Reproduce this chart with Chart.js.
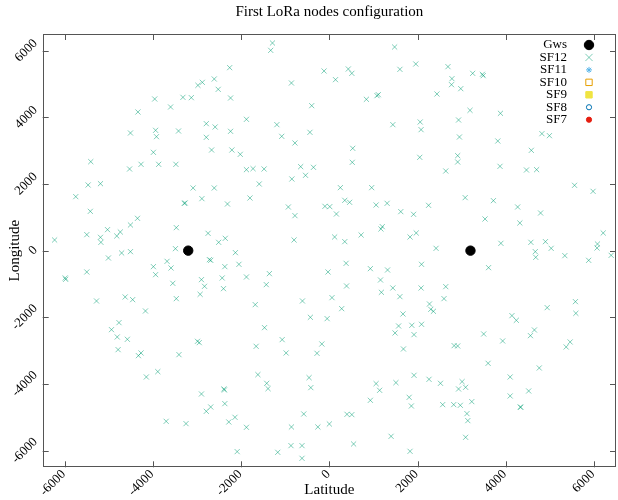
<!DOCTYPE html>
<html>
<head>
<meta charset="utf-8">
<script src="https://cdn.jsdelivr.net/npm/chart.js@4.4.1/dist/chart.umd.min.js"></script>
<style>
html,body{margin:0;padding:0;background:#fff}
</style>
</head>
<body>
<canvas id="c" width="618" height="500"></canvas>
<script>
const TITLE='First LoRa nodes configuration'
const XTITLE='Latitude'
const YTITLE='Longitude'
const tickVals=[-6000,-4000,-2000,0,2000,4000,6000]
const seriesNames=['Gws','SF12','SF11','SF10','SF9','SF8','SF7']

// gateways
const gws=[[-3200,0],[3200,0]]

// SF12 nodes
const sf12=[
[-5410,2670],[-4530,2450],[-4270,2590],[-3870,2590],[-3480,2590],[-3990,2950],[-4510,3530],[-3940,3610],[-3920,3420],[-3420,3590],
[-4340,4160],[-3960,4550],[-3600,4310],[-3320,4600],[-3130,4590],[-2980,4960],[-2880,5050],[-2610,5150],[-2520,4840],[-2260,5490],
[-2240,4580],[-2790,3810],[-2590,3710],[-2790,3400],[-2240,3580],[-2670,3020],[-2210,3020],
[-1290,6230],[-1330,6010],[-860,5030],[-120,5390],[140,5130],[430,5450],[510,5320],[-400,4350],[-1880,3940],[-1190,3780],
[-1080,3430],[-780,3230],[-440,3550],[-2020,2890],[-1880,2430],[-1730,2460],[-1480,2450],[-650,2520],[-360,2500],[-850,2150],
[-540,2260],[530,3070],[520,2650],[840,4540],[1080,4650],[1110,4680],[1440,3780],[1480,6110],[1600,5440],[1960,5600],
[2060,3860],[2080,3630],[2050,2800],
[2690,5520],[2780,5160],[2770,4980],[2980,4860],[2440,4700],[3250,5320],[3470,5290],[3490,5250],[3190,4210],[2930,3920],
[3880,4120],[2950,3410],[3820,3290],[2910,2850],[2910,2660],[2640,2390],[3870,2530],[4470,2420],[4700,2430],[4580,3010],
[4820,3510],[4990,3450],
[-5470,1970],[-5190,2010],[-5750,1620],[-5420,1180],[-6230,320],[-5500,480],[-5190,400],[-5180,250],[-5030,630],[-4820,440],
[-4740,560],[-4510,770],[-4350,970],[-5010,-220],[-4710,-70],[-4510,-30],[-5990,-820],[-5980,-860],[-5500,-640],[-5280,-1510],
[-4630,-1390],[-4460,-1470],[-4170,-1810],[-4770,-2160],[-3290,1420],[-3270,1430],[-3090,1880],[-2890,1560],[-2610,1880],[-2310,1400],
[-3470,690],[-3490,60],[-2750,520],[-2510,250],[-2360,370],[-3680,-320],[-3590,-520],[-3990,-480],[-3940,-720],[-2720,-270],
[-2690,-290],[-2370,-480],[-3550,-980],[-2900,-870],[-2830,-1070],[-2930,-1310],[-2430,-820],[-2400,-1140],[-3470,-1440],
[-1590,2000],[-1800,1580],[-930,1310],[-780,1050],[-800,320],[-2130,-60],[-2050,-410],[-1880,-790],[-1360,-690],[-1430,-1020],
[-1680,-1620],[-610,-1510],[-430,-2000],[-50,-2040],[60,-1410],[280,-1740],[390,-1060],[-30,-640],[380,-380],[120,410],
[350,270],[720,470],[1170,650],[1200,720],[-100,1330],[10,1320],[160,1100],[250,1890],[350,1510],[460,1450],
[960,1890],[1060,1370],[1310,1420],[1620,1170],[1910,1090],[1830,410],[1970,530],[930,-540],[1320,-580],[1160,-880],
[1180,-1250],[1440,-1120],[1600,-1380],[2080,-1120],[2090,-410],[1670,-1900],
[2250,1360],[3080,1590],[3720,1500],[3530,950],[4270,1310],[4320,830],[4790,1130],[5560,1960],[5980,1780],[6210,530],
[6080,200],[6070,80],[6390,-140],[5880,-290],[5340,-150],[5030,70],[4900,270],[4570,250],[4670,-30],[4680,-200],
[3890,220],[2420,70],[3610,-510],[2640,-1080],[2600,-1440],[2270,-1600],[2300,-1760],[2360,-1820],[4940,-1710],[5580,-1530],
[5590,-1880],[4140,-1950],[4240,-2090],
[-4940,-2370],[-4810,-2590],[-4580,-2660],[-4790,-2970],[-4330,-3150],[-4270,-3070],[-4150,-3790],[-3890,-3630],[-3410,-3120],[-2990,-2720],
[-2950,-2760],[-2900,-4300],[-2390,-4150],[-2380,-4180],[-2370,-4590],[-2690,-4690],[-2790,-4820],[-2280,-5140],[-3700,-5120],[-3250,-5190],
[-1470,-2310],[-1070,-2670],[-1660,-2870],[-980,-3070],[-170,-2800],[-280,-3080],[-1620,-3720],[-1420,-3980],[-1390,-4140],[-460,-3810],
[-420,-4110],[-2140,-5000],[-1880,-5300],[-2090,-6030],[-1170,-6050],[-870,-5850],[-620,-5850],[-620,-6230],[-860,-5290],[-580,-4900],
[-260,-5290],[0,-5200],[400,-4910],[510,-4920],[550,-5800],[930,-4490],[1060,-3990],[1140,-4190],[1510,-3960],[1920,-3740],
[1810,-4400],[1860,-4660],[1400,-5570],[1830,-6020],[1490,-2470],[1680,-2950],[1920,-2520],[1570,-2260],[1870,-2240],[2090,-2210],
[3500,-2500],[3930,-2710],[4560,-2550],[4650,-2380],[5370,-2890],[5460,-2740],[2830,-2850],[2910,-2860],[3600,-3380],[4760,-3520],
[4100,-3790],[2260,-3860],[2520,-3980],[3010,-3930],[2930,-4150],[3090,-4100],[4100,-4360],[4520,-4210],[2570,-4620],[2820,-4620],
[2970,-4640],[3230,-4530],[4330,-4690],[4340,-4700],[3120,-4890],[3140,-5100],[3090,-5600]
]

// no nodes ended up on the other spreading factors
const sf11=[]
const sf10=[]
const sf9=[]
const sf8=[]
const sf7=[]

const SERIF='"Liberation Serif", "DejaVu Serif", serif'

function toPts(arr){return arr.map(p=>({x:p[0],y:p[1]}))}

// marker looks, used by datasets and by the hand drawn key
const looks=[
 {style:'circle',r:4.7,fill:'#000',stroke:'#000'},
 {style:'crossRot',r:3.6,fill:'rgba(0,0,0,0)',stroke:'rgba(0,158,115,0.5)'},
 {style:'star',r:3,fill:'rgba(0,0,0,0)',stroke:'#56b4e9'},
 {style:'rect',r:3.2,fill:'rgba(0,0,0,0)',stroke:'#e69f00'},
 {style:'rect',r:3.2,fill:'#f0e442',stroke:'#f0e442'},
 {style:'circle',r:2.6,fill:'rgba(0,0,0,0)',stroke:'#0072b2'},
 {style:'circle',r:2.6,fill:'#e51e10',stroke:'#e51e10'}
]

const allData=[gws,sf12,sf11,sf10,sf9,sf8,sf7]

function drawMark(ctx,lk,x,y){
 ctx.save()
 ctx.lineWidth=1
 ctx.strokeStyle=lk.stroke
 ctx.fillStyle=lk.fill
 const r=lk.r
 ctx.beginPath()
 if(lk.style=='circle'){ctx.arc(x,y,r,0,Math.PI*2);ctx.fill();ctx.stroke()}
 else if(lk.style=='rect'){ctx.rect(x-r,y-r,2*r,2*r);ctx.fill();ctx.stroke()}
 else if(lk.style=='crossRot'){ctx.moveTo(x-r,y-r);ctx.lineTo(x+r,y+r);ctx.moveTo(x-r,y+r);ctx.lineTo(x+r,y-r);ctx.stroke()}
 else if(lk.style=='star'){
  ctx.moveTo(x-r,y);ctx.lineTo(x+r,y);ctx.moveTo(x,y-r);ctx.lineTo(x,y+r)
  ctx.moveTo(x-r*0.7,y-r*0.7);ctx.lineTo(x+r*0.7,y+r*0.7);ctx.moveTo(x-r*0.7,y+r*0.7);ctx.lineTo(x+r*0.7,y-r*0.7);ctx.stroke()}
 ctx.restore()
}

// frame, inward ticks, rotated tick labels, titles and the key, gnuplot style
const framePlugin={
 id:'framePlugin',
 afterDraw(chart){
  const ctx=chart.ctx
  const a=chart.chartArea
  const sx=chart.scales.x, sy=chart.scales.y
  ctx.save()
  ctx.strokeStyle='#555'
  ctx.lineWidth=1
  ctx.strokeRect(Math.round(a.left)+0.5,Math.round(a.top)+0.5,Math.round(a.right-a.left)-1,Math.round(a.bottom-a.top)-1)
  ctx.beginPath()
  tickVals.forEach(v=>{
   const px=Math.round(sx.getPixelForValue(v))+0.5
   ctx.moveTo(px,a.bottom);ctx.lineTo(px,a.bottom-6)
   ctx.moveTo(px,a.top);ctx.lineTo(px,a.top+6)
   const py=Math.round(sy.getPixelForValue(v))+0.5
   ctx.moveTo(a.left,py);ctx.lineTo(a.left+6,py)
   ctx.moveTo(a.right,py);ctx.lineTo(a.right-6,py)
  })
  ctx.stroke()

  // tick labels, rotated 45 degrees like the original
  ctx.fillStyle='#000'
  ctx.font='13px '+SERIF
  ctx.textBaseline='middle'
  tickVals.forEach(v=>{
   const t=String(v)
   const px=sx.getPixelForValue(v)
   ctx.textAlign='right'
   ctx.save();ctx.translate(px-1,a.bottom+5);ctx.rotate(-Math.PI/4);ctx.fillText(t,0,0);ctx.restore()
   ctx.textAlign='center'
   const w=ctx.measureText(t).width
   const bw=(w+9)*0.7071
   const py=sy.getPixelForValue(v)
   ctx.save();ctx.translate(a.left-4-bw/2,py);ctx.rotate(-Math.PI/4);ctx.fillText(t,0,0);ctx.restore()
  })

  ctx.textAlign='center'
  ctx.font='15px '+SERIF
  ctx.fillText(TITLE,(a.left+a.right)/2,12)
  ctx.fillText(XTITLE,(a.left+a.right)/2,490)
  ctx.save()
  ctx.translate(15,(a.top+a.bottom)/2)
  ctx.rotate(-Math.PI/2)
  ctx.fillText(YTITLE,0,0)
  ctx.restore()

  ctx.font='13px '+SERIF
  ctx.textAlign='right'
  seriesNames.forEach((n,i)=>{
   const yy=45+i*12.45
   ctx.fillText(n,567,yy)
   drawMark(ctx,looks[i],589,yy)
  })
  ctx.restore()
 }
}

function axisOpts(fitFn){
 return {
  type:'linear',min:-6500,max:6500,
  grid:{display:false},
  border:{display:false},
  afterBuildTicks:s=>{s.ticks=tickVals.map(v=>({value:v}))},
  afterFit:fitFn,
  ticks:{display:false}
 }
}

const sets=allData.map((d,i)=>({
 label:seriesNames[i],
 data:toPts(d),
 pointStyle:looks[i].style,
 pointRadius:looks[i].r,
 pointHoverRadius:looks[i].r,
 pointBorderWidth:1,
 pointBackgroundColor:looks[i].fill,
 pointBorderColor:looks[i].stroke,
 showLine:false
}))

new Chart(document.getElementById('c'),{
 type:'scatter',
 data:{datasets:sets},
 options:{
  responsive:false,
  animation:false,
  devicePixelRatio:1,
  layout:{autoPadding:false,padding:{top:34,right:2,left:0,bottom:0}},
  plugins:{legend:{display:false},title:{display:false},tooltip:{enabled:false}},
  scales:{
   x:axisOpts(s=>{s.height=32.7;s.paddingLeft=0;s.paddingRight=0}),
   y:axisOpts(s=>{s.width=42.7;s.paddingTop=0;s.paddingBottom=0})
  }
 },
 plugins:[framePlugin]
})
</script>
</body>
</html>
